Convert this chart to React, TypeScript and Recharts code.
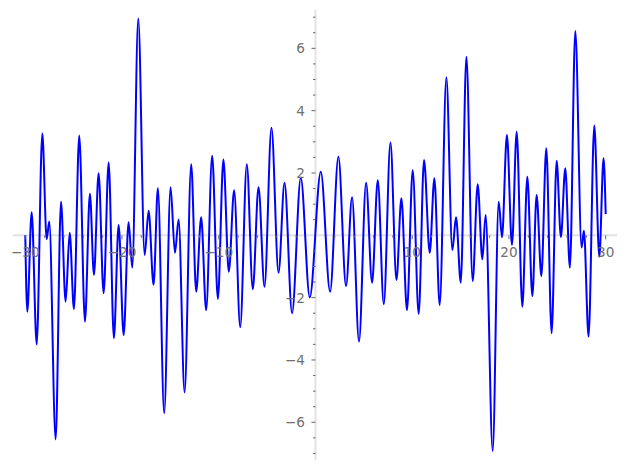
import React from "react";
import { LineChart, Line, XAxis, YAxis, ReferenceLine, ReferenceDot } from "recharts";

const xValues = [
  -30.0, -29.79, -29.34, -28.82, -28.24, -27.79, -27.52, -26.86, -26.31, -25.83,
  -25.41, -24.97, -24.42, -23.83, -23.32, -22.9, -22.42, -21.9, -21.38, -20.84,
  -20.35, -19.83, -19.32, -18.94, -18.32, -17.66, -17.25, -16.74, -16.29, -15.64,
  -14.98, -14.53, -14.15, -13.53, -12.85, -12.33, -11.82, -11.3, -10.68, -10.09,
  -9.52, -8.96, -8.41, -7.78, -7.1, -6.48, -5.89, -5.27, -4.55, -3.82,
  -3.2, -2.42, -1.52, -0.59, 0.55, 1.51, 2.37, 3.16, 3.78, 4.5,
  5.23, 5.85, 6.44, 7.06, 7.75, 8.37, 8.88, 9.46, 10.05, 10.67,
  11.22, 11.81, 12.29, 12.84, 13.53, 14.15, 14.53, 15.02, 15.6, 16.25,
  16.77, 17.25, 17.59, 18.32, 18.94, 19.28, 19.79, 20.31, 20.8, 21.38,
  21.9, 22.42, 22.86, 23.35, 23.86, 24.41, 24.93, 25.37, 25.82, 26.3,
  26.86, 27.51, 27.75, 28.23, 28.82, 29.34, 29.78, 30.0,
];

const yValues = [
  0.0, -2.45, 0.74, -3.5, 3.27, -0.12, 0.44, -6.55, 1.08, -2.13,
  0.08, -2.37, 3.2, -2.77, 1.33, -1.27, 1.99, -1.86, 2.34, -3.3,
  0.33, -3.2, 0.42, -1.04, 6.96, -0.63, 0.79, -1.59, 1.51, -5.71,
  1.54, -0.56, 0.51, -5.04, 2.28, -1.81, 0.58, -2.4, 2.55, -2.04,
  2.43, -1.17, 1.45, -2.95, 2.28, -1.73, 1.54, -1.65, 3.45, -1.2,
  1.69, -2.5, 1.85, -1.99, 2.04, -1.81, 2.52, -1.63, 1.22, -3.41,
  1.69, -1.52, 1.77, -2.21, 2.98, -1.43, 1.19, -2.4, 2.09, -2.52,
  2.42, -0.56, 1.83, -2.24, 5.07, -0.47, 0.58, -1.52, 5.73, -1.47,
  1.64, -0.77, 0.65, -6.92, 1.08, -0.06, 3.22, -0.31, 3.32, -2.29,
  1.88, -1.95, 1.29, -1.31, 2.79, -3.14, 2.39, -0.06, 2.15, -1.04,
  6.56, -0.39, 0.15, -3.25, 3.52, -0.69, 2.47, 0.68,
];

const xMajorTicks = [-30, -20, -10, 10, 20, 30];
const xMinorTicks = [-28, -26, -24, -22, -18, -16, -14, -12, -8, -6, -4, -2, 2, 4, 6, 8, 12, 14, 16, 18, 22, 24, 26, 28];
const yMajorTicks = [-6, -4, -2, 2, 4, 6];
const yMinorTicks = [-7, -6.5, -5.5, -5, -4.5, -3.5, -3, -2.5, -1.5, -1, -0.5, 0.5, 1, 1.5, 2.5, 3, 3.5, 4.5, 5, 5.5, 6.5, 7];

const data = xValues.map((x, i) => ({ x, y: yValues[i] }));

const AXIS_COLOR = "#e3e3e3";
const TICK_COLOR = "#666666";
const LABEL_COLOR = "#707070";
const FONT = "'DejaVu Sans', sans-serif";

const fmt = (v: number) => (v < 0 ? "\u2212" + Math.abs(v) : String(v));

const XTick = (major: boolean, label?: string) => (props: any) => {
  const { cx, cy } = props;
  return (
    <g>
      <line x1={cx} x2={cx} y1={cy} y2={cy + (major ? 4 : 2.5)} stroke={TICK_COLOR} strokeWidth={1} />
      {label !== undefined && (
        <text x={cx} y={cy + 21.7} textAnchor="middle" fontSize={13.6} fontFamily={FONT} fill={LABEL_COLOR}>
          {label}
        </text>
      )}
    </g>
  );
};

const YTick = (major: boolean, label?: string) => (props: any) => {
  const { cx, cy } = props;
  return (
    <g>
      <line x1={cx} x2={cx - (major ? 4 : 2.5)} y1={cy} y2={cy} stroke={TICK_COLOR} strokeWidth={1} />
      {label !== undefined && (
        <text x={cx - 10.5} y={cy} dy="0.36em" textAnchor="end" fontSize={13.6} fontFamily={FONT} fill={LABEL_COLOR}>
          {label}
        </text>
      )}
    </g>
  );
};

export default function App() {
  return (
    <div style={{ position: "absolute", left: 0, top: 0, width: 627, height: 470, background: "#fff" }}>
      <LineChart width={627} height={470} data={data} margin={{ top: 10, bottom: 10, left: 12.7, right: 9.7 }}>
        <XAxis type="number" dataKey="x" domain={[-31.3, 31.2]} allowDataOverflow hide />
        <YAxis type="number" domain={[-7.21, 7.23]} allowDataOverflow hide />
        <ReferenceLine y={0} stroke={AXIS_COLOR} strokeWidth={2} />
        <ReferenceLine x={0} stroke={AXIS_COLOR} strokeWidth={2} />
        {xMinorTicks.map((t) => (
          <ReferenceDot key={"xm" + t} x={t} y={0} r={0} shape={XTick(false)} />
        ))}
        {xMajorTicks.map((t) => (
          <ReferenceDot key={"xM" + t} x={t} y={0} r={0} shape={XTick(true, fmt(t))} />
        ))}
        {yMinorTicks.map((t) => (
          <ReferenceDot key={"ym" + t} x={0} y={t} r={0} shape={YTick(false)} />
        ))}
        {yMajorTicks.map((t) => (
          <ReferenceDot key={"yM" + t} x={0} y={t} r={0} shape={YTick(true, fmt(t))} />
        ))}
        <Line
          type="monotone"
          dataKey="y"
          stroke="#0000ff"
          strokeWidth={2}
          dot={false}
          activeDot={false}
          isAnimationActive={false}
        />
      </LineChart>
    </div>
  );
}
